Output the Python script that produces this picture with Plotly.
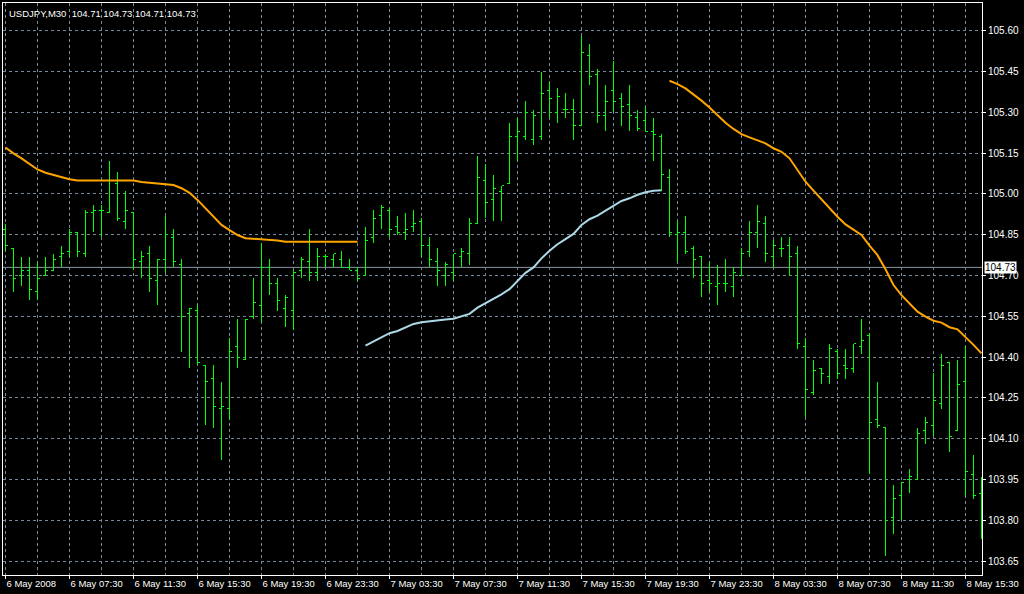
import pandas as pd
import plotly.graph_objects as go

# ---- data (USDJPY, M30) ----
start_time = "2008-05-06 03:30"
n_bars = 123

opens = [104.87, 104.80, 104.70, 104.72, 104.64, 104.70, 104.72, 104.77, 104.79, 104.86,
         104.78, 104.93, 104.94, 104.93, 105.04, 104.90, 104.93, 104.75, 104.78, 104.68,
         104.76, 104.84, 104.74, 104.56, 104.57, 104.37, 104.32, 104.21, 104.21, 104.44,
         104.39, 104.55, 104.59, 104.73, 104.67, 104.58, 104.57, 104.72, 104.75, 104.71,
         104.77, 104.76, 104.76, 104.73, 104.72, 104.70, 104.84, 104.92, 104.94, 104.88,
         104.86, 104.88, 104.90, 104.81, 104.75, 104.70, 104.71, 104.77, 104.78, 104.89,
         105.05, 104.98, 105.01, 105.04, 105.21, 105.21, 105.20, 105.21, 105.38, 105.30,
         105.31, 105.31, 105.25, 105.51, 105.44, 105.29, 105.38, 105.35, 105.33, 105.28,
         105.27, 105.23, 105.21, 105.06, 104.85, 104.86, 104.80, 104.77, 104.68, 104.66,
         104.67, 104.66, 104.70, 104.79, 104.86, 104.89, 104.77, 104.80, 104.81, 104.78,
         104.44, 104.27, 104.36, 104.33, 104.42, 104.37, 104.36, 104.44, 104.48, 104.17,
         104.14, 103.81, 103.89, 103.95, 103.95, 104.13, 104.15, 104.23, 104.38, 104.13,
         104.31, 103.97, 103.90]
highs = [104.89, 104.80, 104.77, 104.77, 104.75, 104.77, 104.78, 104.81, 104.87, 104.86,
         104.94, 104.96, 104.96, 105.12, 105.08, 105.01, 104.93, 104.79, 104.81, 104.76,
         104.92, 104.87, 104.76, 104.58, 104.59, 104.37, 104.37, 104.31, 104.47, 104.54,
         104.54, 104.69, 104.82, 104.76, 104.69, 104.63, 104.72, 104.77, 104.87, 104.80,
         104.78, 104.78, 104.79, 104.76, 104.73, 104.88, 104.94, 104.96, 104.95, 104.92,
         104.93, 104.94, 104.91, 104.84, 104.80, 104.75, 104.78, 104.80, 104.91, 105.14,
         105.11, 105.07, 105.03, 105.26, 105.28, 105.34, 105.31, 105.45, 105.41, 105.39,
         105.37, 105.35, 105.58, 105.55, 105.46, 105.40, 105.49, 105.37, 105.40, 105.31,
         105.32, 105.28, 105.22, 105.09, 104.90, 104.92, 104.81, 104.77, 104.75, 104.74,
         104.76, 104.73, 104.80, 104.90, 104.96, 104.92, 104.83, 104.84, 104.84, 104.81,
         104.47, 104.39, 104.36, 104.45, 104.43, 104.43, 104.45, 104.54, 104.49, 104.31,
         104.14, 103.93, 103.94, 103.99, 104.14, 104.18, 104.34, 104.41, 104.38, 104.39,
         104.44, 104.04, 103.96]
lows = [104.79, 104.64, 104.66, 104.61, 104.61, 104.70, 104.72, 104.73, 104.77, 104.77,
        104.77, 104.86, 104.84, 104.93, 104.90, 104.87, 104.72, 104.69, 104.64, 104.59,
        104.71, 104.73, 104.42, 104.36, 104.37, 104.15, 104.14, 104.02, 104.17, 104.36,
        104.39, 104.54, 104.53, 104.63, 104.57, 104.51, 104.50, 104.69, 104.68, 104.68,
        104.73, 104.73, 104.73, 104.72, 104.68, 104.70, 104.82, 104.87, 104.84, 104.85,
        104.83, 104.86, 104.77, 104.73, 104.66, 104.66, 104.68, 104.73, 104.74, 104.89,
        104.91, 104.90, 104.90, 105.04, 105.12, 105.20, 105.18, 105.20, 105.28, 105.26,
        105.28, 105.20, 105.25, 105.40, 105.26, 105.23, 105.30, 105.25, 105.23, 105.23,
        105.23, 105.12, 105.01, 104.84, 104.75, 104.78, 104.69, 104.62, 104.64, 104.59,
        104.64, 104.62, 104.70, 104.77, 104.80, 104.75, 104.73, 104.77, 104.70, 104.43,
        104.18, 104.26, 104.30, 104.30, 104.32, 104.32, 104.34, 104.41, 103.97, 104.14,
        103.67, 103.75, 103.80, 103.90, 103.95, 104.08, 104.11, 104.21, 104.05, 104.13,
        103.89, 103.88, 103.73]
closes = [104.81, 104.69, 104.72, 104.65, 104.69, 104.72, 104.76, 104.78, 104.86, 104.79,
          104.93, 104.94, 104.94, 105.05, 104.91, 104.94, 104.76, 104.77, 104.69, 104.76,
          104.85, 104.75, 104.55, 104.58, 104.38, 104.31, 104.22, 104.22, 104.42, 104.40,
          104.54, 104.60, 104.73, 104.67, 104.61, 104.62, 104.71, 104.76, 104.71, 104.77,
          104.77, 104.78, 104.73, 104.72, 104.69, 104.83, 104.91, 104.95, 104.87, 104.86,
          104.87, 104.89, 104.81, 104.76, 104.72, 104.74, 104.78, 104.79, 104.89, 105.06,
          104.97, 105.02, 105.03, 105.21, 105.23, 105.30, 105.29, 105.37, 105.35, 105.36,
          105.31, 105.25, 105.52, 105.43, 105.29, 105.34, 105.34, 105.32, 105.29, 105.24,
          105.23, 105.22, 105.07, 104.86, 104.86, 104.79, 104.76, 104.67, 104.67, 104.67,
          104.67, 104.71, 104.78, 104.86, 104.90, 104.78, 104.81, 104.80, 104.77, 104.45,
          104.28, 104.35, 104.34, 104.43, 104.34, 104.36, 104.45, 104.46, 104.16, 104.15,
          103.80, 103.88, 103.94, 103.96, 104.12, 104.16, 104.24, 104.37, 104.11, 104.30,
          103.98, 103.89, 103.93]

# indicator line, drawn in three coloured pieces
ma_orange_early = [105.171, 105.149, 105.131, 105.110, 105.090, 105.078, 105.070, 105.060, 105.054, 105.049,
                   105.049, 105.049, 105.049, 105.049, 105.049, 105.049, 105.049, 105.044, 105.041, 105.038,
                   105.036, 105.033, 105.021, 105.004, 104.978, 104.947, 104.914, 104.886, 104.867, 104.849,
                   104.837, 104.835, 104.835, 104.833, 104.829, 104.824, 104.824, 104.824, 104.824, 104.824,
                   104.824, 104.824, 104.824, 104.824, 104.824]
ma_blue = [104.442, 104.457, 104.473, 104.488, 104.496, 104.508, 104.522, 104.528, 104.532, 104.534,
           104.538, 104.541, 104.549, 104.559, 104.582, 104.598, 104.616, 104.631, 104.650, 104.680,
           104.710, 104.730, 104.763, 104.791, 104.815, 104.834, 104.853, 104.886, 104.907, 104.920,
           104.938, 104.959, 104.974, 104.984, 104.997, 105.006, 105.012, 105.014]
ma_orange_late = [105.416, 105.404, 105.388, 105.367, 105.343, 105.318, 105.290, 105.262, 105.239, 105.220,
                  105.208, 105.198, 105.186, 105.168, 105.155, 105.131, 105.088, 105.045, 105.012, 104.980,
                  104.951, 104.916, 104.888, 104.870, 104.849, 104.810, 104.775, 104.723, 104.665, 104.628,
                  104.598, 104.567, 104.549, 104.534, 104.527, 104.510, 104.502, 104.475, 104.445, 104.414]

title_text = "USDJPY,M30&nbsp;&nbsp;104.71 104.73 104.71 104.73"
current_price = 104.73
y_ticks = [103.65, 103.80, 103.95, 104.10, 104.25, 104.40, 104.55, 104.70,
           104.85, 105.00, 105.15, 105.30, 105.45, 105.60]

# ---- build ----
times = pd.date_range(start_time, periods=n_bars, freq="30min")
idx = list(range(n_bars))
tick_idx = idx[::8]
tick_text = [times[0].strftime("%-d %b %Y")] + [times[i].strftime("%-d %b %H:%M") for i in tick_idx[1:]]

n1 = len(ma_orange_early)
n2 = len(ma_blue)
x_o1 = idx[:n1]
x_b = idx[n1:n1 + n2]
x_o2 = idx[n1 + n2:]

GRID = "#778899"
BAR = "#00FF00"
FONT = "Liberation Sans"

fig = go.Figure()
fig.add_trace(go.Ohlc(
    x=idx, open=opens, high=highs, low=lows, close=closes,
    increasing=dict(line=dict(color=BAR, width=1)),
    decreasing=dict(line=dict(color=BAR, width=1)),
    tickwidth=0.3, hoverinfo="skip"))
fig.add_trace(go.Scatter(x=x_o1, y=ma_orange_early, mode="lines",
                         line=dict(color="#FFA500", width=2), hoverinfo="skip"))
fig.add_trace(go.Scatter(x=x_b, y=ma_blue, mode="lines",
                         line=dict(color="#ADD8E6", width=2), hoverinfo="skip"))
fig.add_trace(go.Scatter(x=x_o2, y=ma_orange_late, mode="lines",
                         line=dict(color="#FFA500", width=2), hoverinfo="skip"))

fig.add_shape(type="line", xref="paper", yref="y", x0=0, x1=1,
              y0=current_price, y1=current_price,
              line=dict(color="#8A96A3", width=1), layer="below")

fig.add_annotation(xref="paper", yref="y", x=1, y=current_price, xanchor="left",
                   xshift=2, text=f"{current_price:.2f}", showarrow=False,
                   bgcolor="white", borderpad=0,
                   font=dict(family=FONT, size=10, color="black"))
fig.add_annotation(xref="paper", yref="paper", x=0, y=1, xanchor="left", yanchor="top",
                   xshift=4, yshift=-3, text=title_text, showarrow=False,
                   font=dict(family=FONT, size=9.5, color="white"))

fig.update_layout(
    width=1024, height=594,
    margin=dict(l=3, r=42, t=3, b=19, autoexpand=False),
    paper_bgcolor="black", plot_bgcolor="black",
    showlegend=False,
    font=dict(family=FONT, size=10, color="white"),
    hovermode=False,
)
fig.update_xaxes(
    range=[-0.3125, 122.0625],
    tickmode="array", tickvals=tick_idx, ticktext=tick_text,
    ticks="outside", ticklen=3, tickcolor="white", tickangle=0,
    ticklabelposition="outside right", automargin=False,
    showgrid=True, gridcolor=GRID, griddash="3px,3px", gridwidth=1,
    minor=dict(tick0=0, dtick=4, showgrid=True, gridcolor=GRID, griddash="3px,3px", ticks=""),
    showline=True, linecolor="white", linewidth=1, mirror=True,
    zeroline=False, rangeslider=dict(visible=False), fixedrange=True,
    tickfont=dict(family=FONT, size=9.5, color="white"),
)
fig.update_yaxes(
    side="right", range=[103.599, 105.702], automargin=False,
    tickmode="array", tickvals=y_ticks, tickformat=".2f",
    ticks="outside", ticklen=3, tickcolor="white",
    showgrid=True, gridcolor=GRID, griddash="3px,3px", gridwidth=1,
    showline=True, linecolor="white", linewidth=1, mirror=True,
    zeroline=False, fixedrange=True,
    tickfont=dict(family=FONT, size=10, color="white"),
)

page_css = ("document.body.style.margin='0px';"
            "document.body.style.background='black';"
            "document.querySelectorAll('.ohlc path').forEach(function(p){p.style.shapeRendering='crispEdges';});")
fig.write_html("out.html", post_script=page_css,
               config={"displayModeBar": False, "staticPlot": True})
